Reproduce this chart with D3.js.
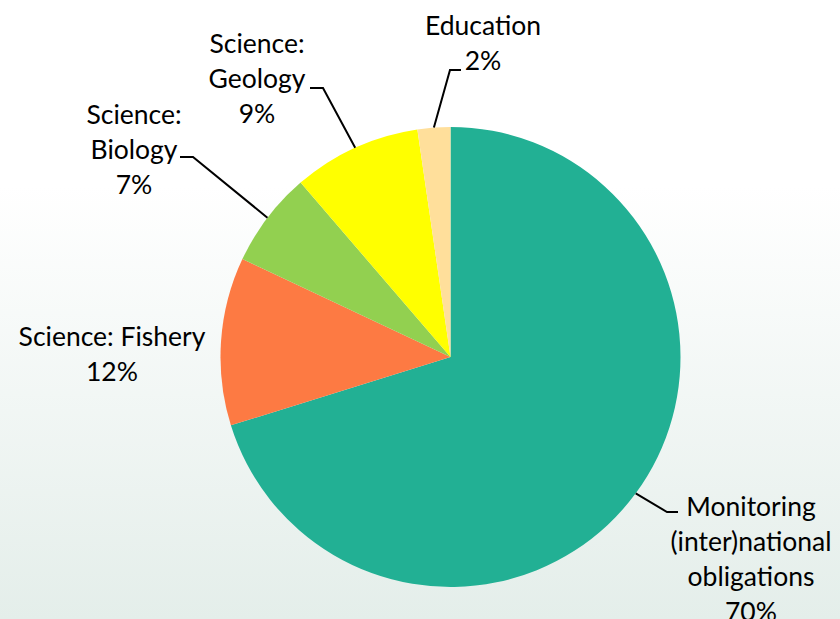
<!DOCTYPE html>
<html>
<head>
<meta charset="utf-8">
<script src="https://cdn.jsdelivr.net/npm/d3@7"></script>
<style>
  html, body { margin: 0; padding: 0; }
  body { width: 840px; height: 619px; overflow: hidden; }
  svg { display: block; }
</style>
</head>
<body>
<svg id="chart" width="840" height="619"></svg>
<script>
// ---- data ----
const categories = ["Monitoring (inter)national obligations", "Science: Fishery", "Science: Biology", "Science: Geology", "Education"];
const values = [70.2, 11.8, 6.7, 9.0, 2.3];
const labelLines = [
  ["Monitoring", "(inter)national", "obligations"],
  ["Science: Fishery"],
  ["Science:", "Biology"],
  ["Science:", "Geology"],
  ["Education"]
];
const colors = ["#22B094", "#FD7A43", "#92D050", "#FFFF00", "#FFDF9B"];

// ---- layout (positions for labels, not data) ----
const W = 840, H = 619;
const cx = 450.5, cy = 357, R = 230;
const labelLayout = [
  { x: 751, y: 516, elbow: [667, 512], end: [678, 512] },
  { x: 112, y: 346, elbow: null, end: null },
  { x: 134, y: 124, elbow: [193, 157], end: [180, 157] },
  { x: 257, y: 53,  elbow: [323, 88],  end: [310, 88] },
  { x: 483, y: 35,  elbow: [450, 70],  end: [461, 70] }
];
const lineH = 35;

const svg = d3.select("#chart");
const defs = svg.append("defs");
const grad = defs.append("linearGradient").attr("id", "bg").attr("x1", 0).attr("y1", 0).attr("x2", 0).attr("y2", 1);
grad.append("stop").attr("offset", "0%").attr("stop-color", "#FFFFFF");
grad.append("stop").attr("offset", "30%").attr("stop-color", "#FFFFFF");
grad.append("stop").attr("offset", "100%").attr("stop-color", "#E4EEEA");
svg.append("rect").attr("width", W).attr("height", H).attr("fill", "url(#bg)");

const data = categories.map((c, i) => ({ name: c, value: values[i], lines: labelLines[i], color: colors[i], layout: labelLayout[i] }));
const total = d3.sum(values);

const pie = d3.pie().value(d => d.value).sort(null).startAngle(0).endAngle(2 * Math.PI);
const arc = d3.arc().innerRadius(0).outerRadius(R);
const arcs = pie(data);

const g = svg.append("g").attr("transform", `translate(${cx},${cy})`);
g.selectAll("path.slice").data(arcs).enter().append("path")
  .attr("class", "slice")
  .attr("d", arc)
  .attr("fill", d => d.data.color);

// leader lines
const edge = d3.arc().innerRadius(R).outerRadius(R);
arcs.forEach(a => {
  const L = a.data.layout;
  if (!L.elbow) return;
  const c = edge.centroid(a);
  const pts = [[cx + c[0], cy + c[1]], L.elbow, L.end];
  svg.append("path")
    .attr("d", d3.line()(pts))
    .attr("fill", "none")
    .attr("stroke", "#000")
    .attr("stroke-width", 2);
});

// labels
arcs.forEach(a => {
  const L = a.data.layout;
  const pct = Math.round(a.data.value / total * 100) + "%";
  const lines = a.data.lines.concat([pct]);
  const t = svg.append("text")
    .attr("text-anchor", "middle")
    .attr("font-family", "Lato, 'Open Sans', sans-serif")
    .attr("font-size", 26.5)
    .attr("fill", "#000");
  lines.forEach((ln, i) => {
    t.append("tspan").attr("x", L.x).attr("y", L.y + i * lineH).text(ln);
  });
});
</script>
</body>
</html>
